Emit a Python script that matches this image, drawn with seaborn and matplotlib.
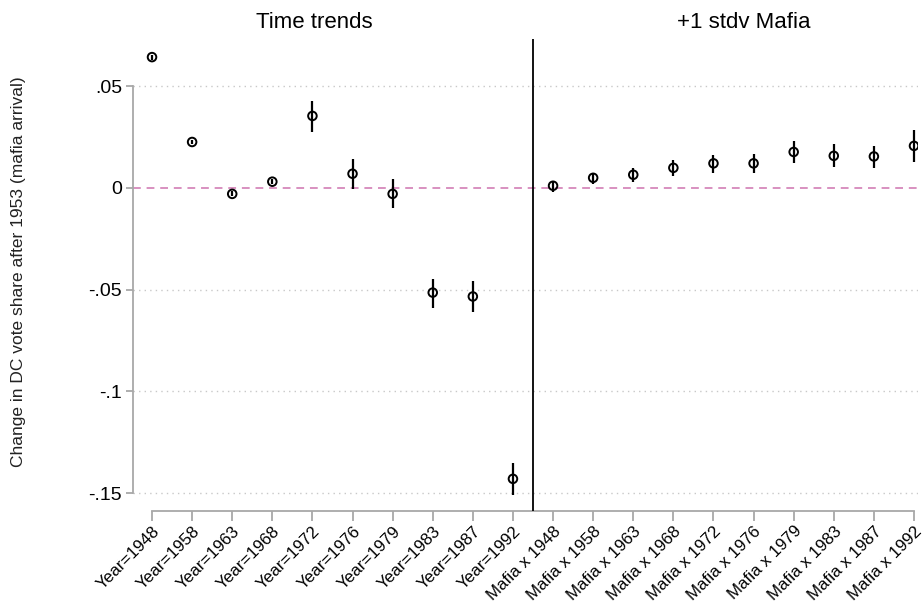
import matplotlib
matplotlib.use("Agg")
import matplotlib.pyplot as plt
import seaborn as sns
import numpy as np
import pandas as pd

years = ["1948", "1958", "1963", "1968", "1972", "1976", "1979", "1983", "1987", "1992"]
labels = ["Year=" + y for y in years] + ["Mafia x " + y for y in years]

trend_est = [0.0642, 0.0225, -0.0030, 0.0030, 0.0353, 0.0069, -0.0030, -0.0515, -0.0534, -0.1430]
trend_lo = [0.0630, 0.0213, -0.0042, 0.0018, 0.0275, -0.0005, -0.0098, -0.0593, -0.0610, -0.1510]
trend_hi = [0.0654, 0.0237, -0.0018, 0.0042, 0.0426, 0.0142, 0.0044, -0.0446, -0.0460, -0.1350]

mafia_est = [0.0010, 0.0049, 0.0064, 0.0098, 0.0120, 0.0120, 0.0176, 0.0157, 0.0154, 0.0206]
mafia_lo = [-0.0020, 0.0020, 0.0029, 0.0059, 0.0074, 0.0074, 0.0120, 0.0103, 0.0098, 0.0127]
mafia_hi = [0.0034, 0.0074, 0.0098, 0.0137, 0.0162, 0.0167, 0.0230, 0.0216, 0.0206, 0.0284]

yticks = [0.05, 0.0, -0.05, -0.1, -0.15]
ytick_labels = [".05", "0", "-.05", "-.1", "-.15"]

df = pd.DataFrame({
    "label": labels,
    "pos": np.arange(len(labels)),
    "est": trend_est + mafia_est,
    "lo": trend_lo + mafia_lo,
    "hi": trend_hi + mafia_hi,
})

sns.set_style("white")
plt.rcParams["font.family"] = ["Liberation Sans", "DejaVu Sans"]
plt.rcParams["text.color"] = "black"
plt.rcParams["xtick.color"] = "black"
plt.rcParams["ytick.color"] = "black"

W, H = 923, 604
fig = plt.figure(figsize=(W / 100, H / 100), dpi=100)
ax = fig.add_axes([133 / W, (H - 511) / H, (918 - 133) / W, (511 - 39) / H])

# gridlines
for t in yticks:
    if t != 0:
        ax.axhline(t, color="#c8c8c8", lw=1.0, ls=(0, (1, 3)), zorder=0)
ax.axhline(0, color="#d890c0", lw=1.4, ls=(0, (4, 3)), zorder=1)

# confidence intervals
ax.vlines(df["pos"], df["lo"], df["hi"], color="black", lw=1.6, zorder=3)
sns.scatterplot(data=df, x="pos", y="est", ax=ax, marker="o", s=38,
                facecolor="none", edgecolor="black", linewidth=1.4, zorder=4)

ax.axvline(9.5, color="black", lw=1.3, zorder=5)

ax.set_xlim(-0.474, 19.1)
ax.set_ylim(-0.1588, 0.0731)
ax.set_xticks(df["pos"])
ax.set_xticklabels(df["label"], rotation=45, ha="right", rotation_mode="anchor", fontsize=12.2)
ax.set_yticks(yticks)
ax.set_yticklabels(ytick_labels, fontsize=14)
ax.set_xlabel("")
ax.set_ylabel("")

for side in ["top", "right"]:
    ax.spines[side].set_visible(False)
for side in ["left", "bottom"]:
    ax.spines[side].set_color("#a8a8a8")
    ax.spines[side].set_linewidth(1.3)
ax.spines["left"].set_bounds(-0.15, 0.05)
ax.spines["bottom"].set_bounds(0, 19)
ax.tick_params(axis="both", direction="out", color="#a8a8a8", width=1.3,
               bottom=True, left=True, labelcolor="black")
ax.tick_params(axis="y", length=5, pad=3)
ax.tick_params(axis="x", length=7, pad=2)

fig.text(314 / W, 1 - 23 / H, "Time trends", ha="center", va="center", fontsize=16)
fig.text(744 / W, 1 - 23 / H, "+1 stdv Mafia", ha="center", va="center", fontsize=16)
fig.text(19 / W, 1 - 272 / H, "Change in DC vote share after 1953 (mafia arrival)",
         rotation=90, ha="center", va="center", fontsize=12.5, color="#222222")

fig.savefig("out.png", dpi=100, facecolor="white")
